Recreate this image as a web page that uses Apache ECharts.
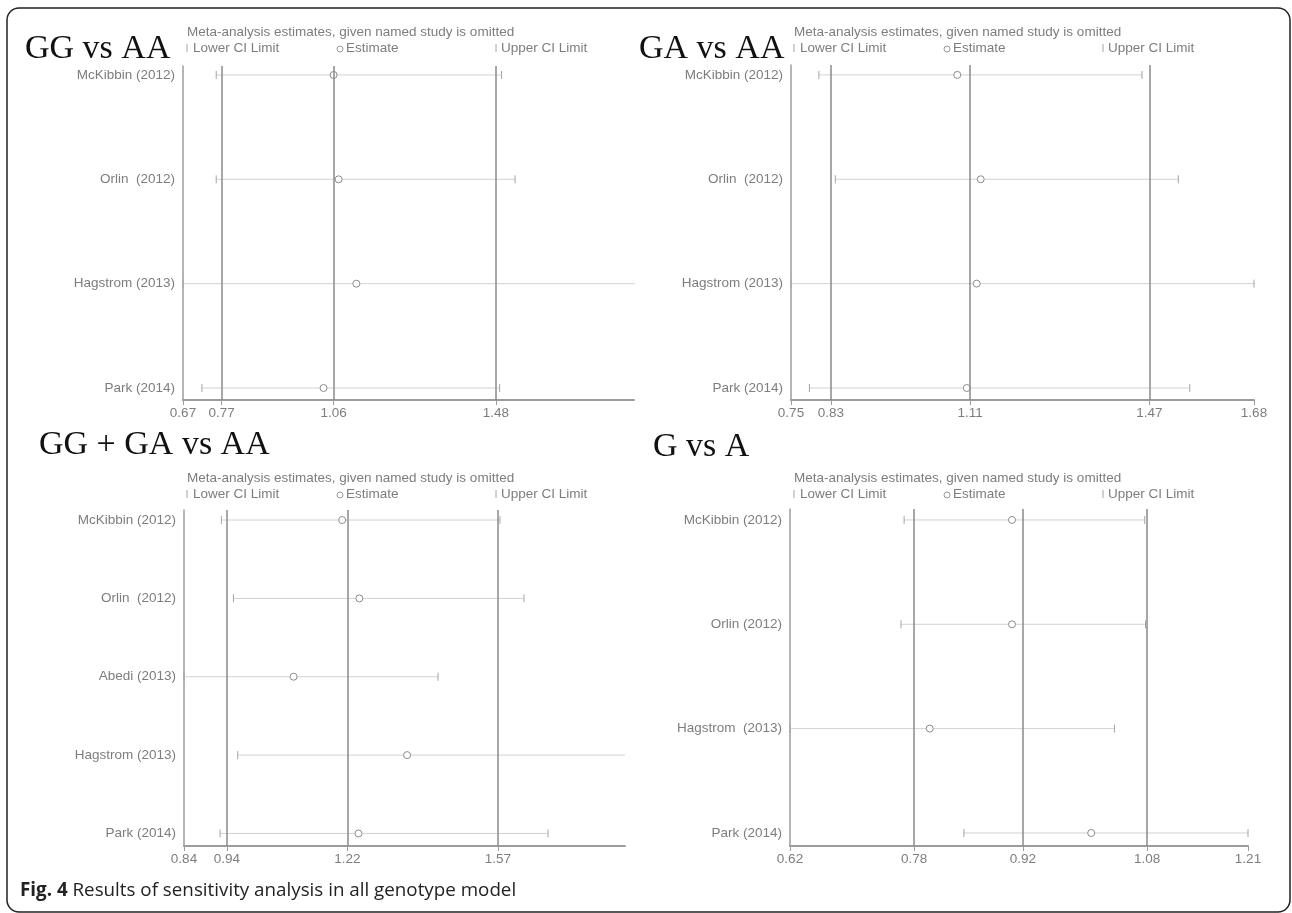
<!DOCTYPE html>
<html>
<head>
<meta charset="utf-8">
<title>Sensitivity analysis</title>
<script src="https://cdn.jsdelivr.net/npm/echarts@6/dist/echarts.min.js"></script>
<style>
  html, body { margin: 0; padding: 0; background: #fff; }
  #chart { width: 1292px; height: 913px; }
</style>
</head>
<body>
<div id="chart"></div>
<script>
// ---- study labels (top row first) ----
const studiesGG = ['McKibbin (2012)', 'Orlin  (2012)', 'Hagstrom (2013)', 'Park (2014)'];
const studiesGA = ['McKibbin (2012)', 'Orlin  (2012)', 'Hagstrom (2013)', 'Park (2014)'];
const studiesDom = ['McKibbin (2012)', 'Orlin  (2012)', 'Abedi (2013)', 'Hagstrom (2013)', 'Park (2014)'];
const studiesAllele = ['McKibbin (2012)', 'Orlin (2012)', 'Hagstrom  (2013)', 'Park (2014)'];

// ---- GG vs AA ----
const lowerGG = [0.756, 0.756, 0.67, 0.719];
const estGG   = [1.06, 1.073, 1.119, 1.034];
const upperGG = [1.495, 1.53, 1.84, 1.49];
const ticksGG = [0.67, 0.77, 1.06, 1.48];
const refGG   = [0.77, 1.06, 1.48];

// ---- GA vs AA ----
const lowerGA = [0.806, 0.839, 0.75, 0.787];
const estGA   = [1.084, 1.131, 1.123, 1.103];
const upperGA = [1.455, 1.528, 1.68, 1.551];
const ticksGA = [0.75, 0.83, 1.11, 1.47, 1.68];
const refGA   = [0.83, 1.11, 1.47];

// ---- GG + GA vs AA ----
const lowerDom = [0.927, 0.955, 0.84, 0.965, 0.924];
const estDom   = [1.208, 1.248, 1.095, 1.359, 1.246];
const upperDom = [1.575, 1.631, 1.431, 1.866, 1.687];
const ticksDom = [0.84, 0.94, 1.22, 1.57];
const refDom   = [0.94, 1.22, 1.57];

// ---- G vs A ----
const lowerAllele = [0.767, 0.763, 0.62, 0.844];
const estAllele   = [0.906, 0.906, 0.80, 1.008];
const upperAllele = [1.077, 1.078, 1.038, 1.21];
const ticksAllele = [0.62, 0.78, 0.92, 1.08, 1.21];
const refAllele   = [0.78, 0.92, 1.08];

const panels = [
  { title: 'GG vs AA', names: studiesGG, lower: lowerGG, est: estGG, upper: upperGG, ticks: ticksGG, ref: refGG,
    grid: { left: 183, top: 66, width: 451, height: 334 }, xMin: 0.67, xMax: 1.838, yMin: 0.885, yMax: 4.086,
    titlePos: [25, 51], legendPos: [187, 32] },
  { title: 'GA vs AA', names: studiesGA, lower: lowerGA, est: estGA, upper: upperGA, ticks: ticksGA, ref: refGA,
    grid: { left: 791, top: 65, width: 463, height: 335 }, xMin: 0.75, xMax: 1.68, yMin: 0.885, yMax: 4.095,
    titlePos: [639, 51], legendPos: [794, 32] },
  { title: 'GG + GA vs AA', names: studiesDom, lower: lowerDom, est: estDom, upper: upperDom, ticks: ticksDom, ref: refDom,
    grid: { left: 184, top: 510, width: 441, height: 336 }, xMin: 0.84, xMax: 1.866, yMin: 0.84, yMax: 5.128,
    titlePos: [39, 447], legendPos: [187, 478] },
  { title: 'G vs A', names: studiesAllele, lower: lowerAllele, est: estAllele, upper: upperAllele, ticks: ticksAllele, ref: refAllele,
    grid: { left: 790, top: 509, width: 458, height: 337 }, xMin: 0.62, xMax: 1.21, yMin: 0.875, yMax: 4.105,
    titlePos: [653, 449], legendPos: [794, 478] }
];

const TEXT_GRAY = '#7d7d7d';
const AXIS_GRAY = '#9c9c9c';
const labelFont = "'Liberation Sans', Arial, sans-serif";
const FS = 13.5;

// one row: horizontal CI line, end caps, hollow estimate circle
function makeRenderer(xMax, ticks) {
  // when the axis end is not a labelled tick, limits reaching it run off the plot uncapped
  const openEnd = ticks.indexOf(xMax) < 0;
  return function (params, api) {
    const row = api.value(3);
    const pL = api.coord([api.value(0), row]);
    const pE = api.coord([api.value(1), row]);
    const pU = api.coord([api.value(2), row]);
    const cap = 4;
    const children = [
      { type: 'line', shape: { x1: pL[0], y1: pL[1], x2: pU[0], y2: pU[1] },
        style: { stroke: '#d2d2d2', lineWidth: 1 } },
      { type: 'line', shape: { x1: pL[0], y1: pL[1] - cap, x2: pL[0], y2: pL[1] + cap },
        style: { stroke: '#a4a4a4', lineWidth: 1 } }
    ];
    if (!(openEnd && api.value(2) >= xMax - 0.01)) {
      children.push({ type: 'line', shape: { x1: pU[0], y1: pU[1] - cap, x2: pU[0], y2: pU[1] + cap },
        style: { stroke: '#a4a4a4', lineWidth: 1 } });
    }
    children.push({ type: 'circle', shape: { cx: pE[0], cy: pE[1], r: 3.5 },
      style: { fill: '#fff', stroke: '#8c8c8c', lineWidth: 1 } });
    return { type: 'group', children: children };
  };
}

const grids = [], xAxes = [], yAxes = [], series = [], graphics = [];

panels.forEach((p, i) => {
  const n = p.names.length;
  grids.push(Object.assign({ containLabel: false }, p.grid));

  xAxes.push({
    gridIndex: i, type: 'value', min: p.xMin, max: p.xMax,
    axisLine: { show: true, onZero: false, lineStyle: { color: AXIS_GRAY, width: 2 } },
    axisTick: { show: true, customValues: p.ticks, length: 5, lineStyle: { color: AXIS_GRAY, width: 1 } },
    axisLabel: { customValues: p.ticks, formatter: v => Number(v).toFixed(2),
      color: TEXT_GRAY, fontSize: FS, fontFamily: labelFont, margin: 6 },
    splitLine: { show: false }
  });

  const rowValues = p.names.map((_, k) => n - k);
  yAxes.push({
    gridIndex: i, type: 'value', min: p.yMin, max: p.yMax,
    axisLine: { show: true, onZero: false, lineStyle: { color: AXIS_GRAY, width: 1.5 } },
    axisTick: { show: false },
    axisLabel: { customValues: rowValues, formatter: v => p.names[n - Math.round(v)],
      color: TEXT_GRAY, fontSize: FS, fontFamily: labelFont, margin: 8 },
    splitLine: { show: false }
  });

  const rows = p.names.map((name, k) => [p.lower[k], p.est[k], p.upper[k], n - k, name]);
  series.push({
    type: 'custom', xAxisIndex: i, yAxisIndex: i, clip: false,
    renderItem: makeRenderer(p.xMax, p.ticks), data: rows, silent: true,
    markLine: {
      silent: true, symbol: 'none', label: { show: false },
      lineStyle: { color: '#8a8a8a', width: 1.5, type: 'solid' },
      data: p.ref.map(v => ({ xAxis: v }))
    }
  });

  // panel heading
  graphics.push({
    type: 'text', left: p.titlePos[0], top: p.titlePos[1] - 19,
    style: { text: p.title, font: "34px 'Liberation Serif', 'Times New Roman', serif", fill: '#111' }
  });

  // legend block
  const lx = p.legendPos[0], ly = p.legendPos[1];
  const rowY = ly + 16;
  const legX = [lx, lx + 152, lx + 309];
  const lf = FS + 'px ' + labelFont;
  graphics.push({
    type: 'text', x: lx, y: ly,
    style: { text: 'Meta-analysis estimates, given named study is omitted', font: lf,
      fill: TEXT_GRAY, textVerticalAlign: 'middle' }
  });
  graphics.push({ type: 'line', shape: { x1: legX[0], y1: rowY - 4, x2: legX[0], y2: rowY + 4 },
    style: { stroke: '#a4a4a4', lineWidth: 1 } });
  graphics.push({ type: 'text', x: legX[0] + 6, y: rowY,
    style: { text: 'Lower CI Limit', font: lf, fill: TEXT_GRAY, textVerticalAlign: 'middle' } });
  graphics.push({ type: 'circle', shape: { cx: legX[1] + 1, cy: rowY + 1, r: 3 },
    style: { fill: '#fff', stroke: '#9a9a9a', lineWidth: 1 } });
  graphics.push({ type: 'text', x: legX[1] + 7, y: rowY,
    style: { text: 'Estimate', font: lf, fill: TEXT_GRAY, textVerticalAlign: 'middle' } });
  graphics.push({ type: 'line', shape: { x1: legX[2], y1: rowY - 4, x2: legX[2], y2: rowY + 4 },
    style: { stroke: '#a4a4a4', lineWidth: 1 } });
  graphics.push({ type: 'text', x: legX[2] + 5, y: rowY,
    style: { text: 'Upper CI Limit', font: lf, fill: TEXT_GRAY, textVerticalAlign: 'middle' } });
});

// figure frame
graphics.push({
  type: 'rect', shape: { x: 7, y: 8, width: 1283, height: 904, r: 12 },
  style: { fill: 'none', stroke: '#222', lineWidth: 1.5 }, z: -1
});

// caption
graphics.push({
  type: 'text', x: 20, y: 891,
  style: {
    text: '{b|Fig. 4} Results of sensitivity analysis in all genotype model',
    font: "18.8px 'Open Sans', 'Noto Sans', sans-serif",
    fill: '#222', textVerticalAlign: 'middle',
    rich: { b: { fontWeight: 'bold', fontSize: 18.8, fontFamily: "'Open Sans', 'Noto Sans', sans-serif", fill: '#222' } }
  }
});

const chart = echarts.init(document.getElementById('chart'), null, { renderer: 'canvas' });
chart.setOption({
  animation: false,
  backgroundColor: '#fff',
  grid: grids,
  xAxis: xAxes,
  yAxis: yAxes,
  series: series,
  graphic: { elements: graphics }
});
</script>
</body>
</html>
